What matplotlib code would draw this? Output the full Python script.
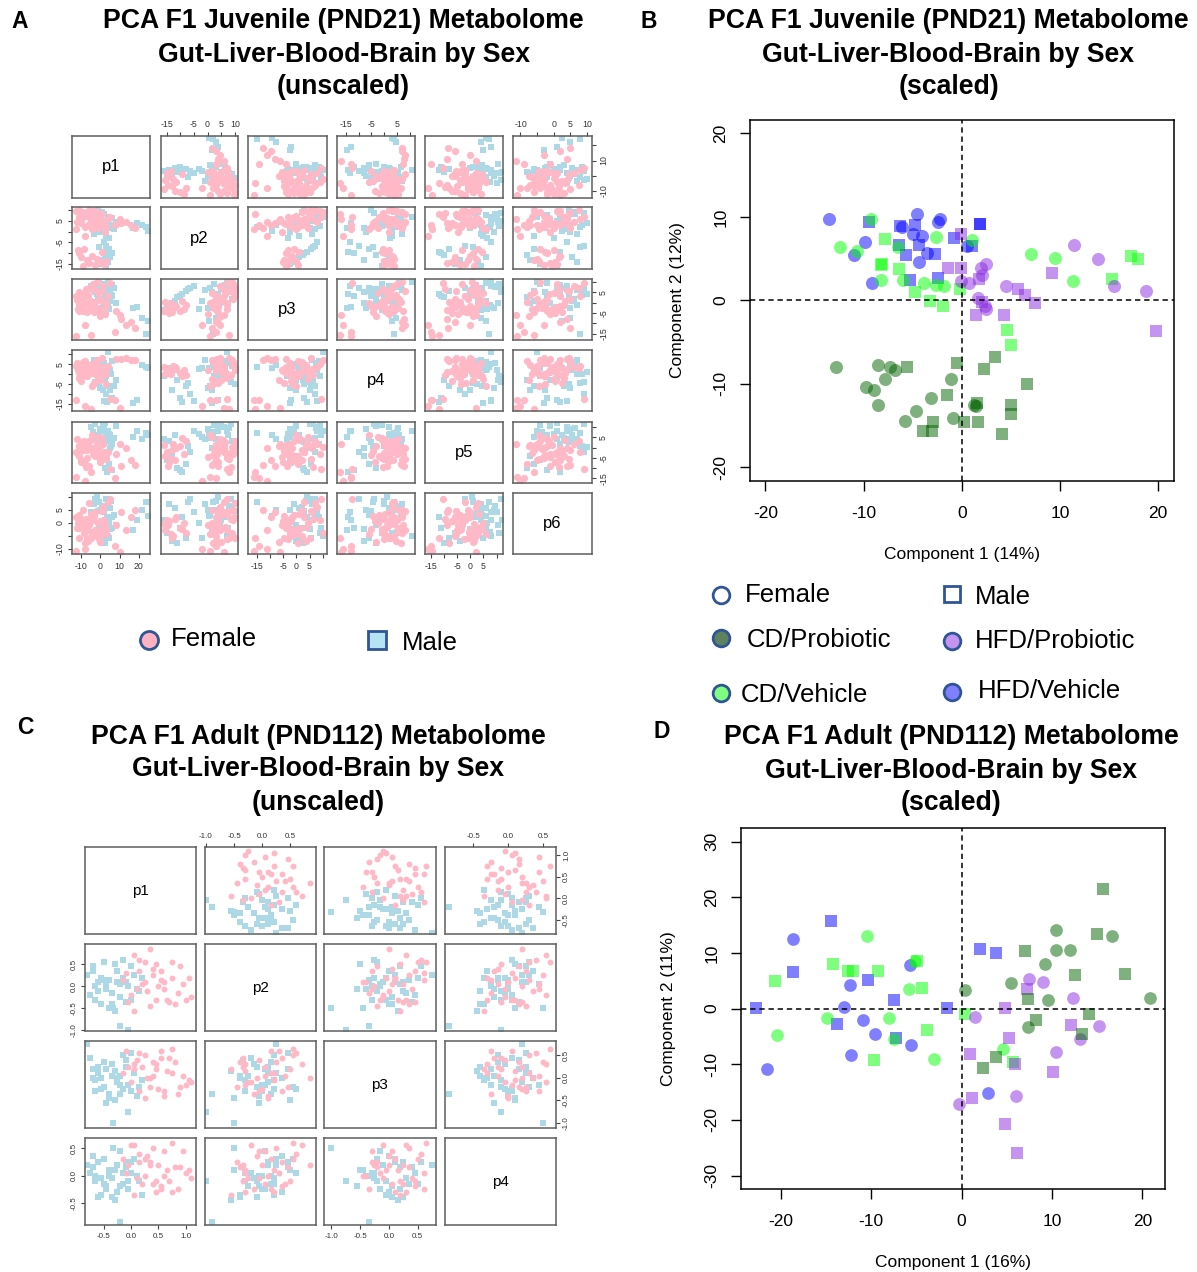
import matplotlib
matplotlib.use('Agg')
import matplotlib.pyplot as plt

plt.rcParams['font.family'] = ['Liberation Sans', 'DejaVu Sans']

# ---------------- Panel A: juvenile PCA pairs (unscaled), 6 components ----------------
a_names = ['p1', 'p2', 'p3', 'p4', 'p5', 'p6']
a_f_p1 = [-13.0, -11.0, -9.0, -6.0, -4.0, -2.0, -11.5, -9.5, -7.0, -3.0, -1.0, -12.5, -10.0, -6.5, -3.5, 0.0, 1.5, 3.0,
          -8.0, -1.5, 2.5, -5.0, -2.5, -7.5, -0.5, 4.0, -4.5, 1.0, -12.0, -11.0, -10.0, -8.5, -7.0, -6.0, -4.5, -3.0,
          -2.0, -0.5, 1.0, 2.0, 3.0, -9.0, 8.0, 11.0, 13.5, 16.0, 18.0, -13.0, -8.0, -5.0, 7.5, 10.0, 5.0]
a_f_p2 = [9.8, 10.0, 9.2, 10.1, 9.5, 9.0, 7.0, 6.5, 7.2, 6.0, 7.0, 4.5, 4.0, 3.0, 4.0, 3.0, 4.5, 2.0, 2.0, 1.5, 0.0,
          5.5, 2.5, 8.5, 5.0, 6.0, 1.0, 8.0, -8.5, -10.0, -12.0, -8.0, -13.0, -14.5, -11.5, -15.5, -12.5, -14.0,
          -9.5, -15.0, -13.5, -15.8, 3.5, 4.0, 4.5, 3.0, 1.5, 1.0, -2.0, 8.0, 3.0, 6.0, 7.0]
a_f_p3 = [3.0, 5.0, 2.0, 7.0, 9.0, 10.0, -1.0, 4.0, 0.0, 6.0, -3.0, 1.5, -2.0, 3.5, -4.5, 2.0, 8.0, -1.5, 0.5, 4.5,
          -5.5, 1.0, -2.5, 6.5, -6.5, 3.0, 0.0, 5.5, -3.0, -4.0, -2.0, -1.0, -4.5, -3.5, -1.5, 0.5, -2.5, -5.0, 1.0,
          -3.0, 0.0, -4.0, -4.0, -8.0, -11.0, -9.5, -12.5, -16.0, -11.0, -15.5, -14.0, -6.0, 9.5]
a_f_p4 = [4.0, 2.0, 6.0, 3.0, 5.0, 7.0, -2.0, 1.0, -1.0, 2.5, 0.0, 5.5, -3.5, 4.5, -4.5, 1.5, 3.5, -5.0, 6.5, -2.5,
          2.0, 0.5, 5.5, -0.5, -3.0, 4.0, -6.0, 8.0, 2.0, 0.5, 3.5, -0.5, 2.5, 1.0, 3.0, 0.0, 4.0, 1.5, -1.0, 2.5,
          0.0, 3.8, 7.5, 7.8, 8.0, 7.2, 7.0, -13.0, -16.0, -17.5, -13.0, -17.0, -12.5]
a_f_p5 = [-2.0, 1.0, -1.0, 3.0, -3.0, 0.5, -4.0, 2.5, -5.0, 0.0, -2.5, 4.0, -7.0, 1.5, -1.5, -6.0, 2.0, -3.5, -8.0,
          5.0, -4.5, 3.5, -0.5, -9.5, 1.0, -2.0, 6.0, -5.5, -3.0, 1.0, -6.0, 3.0, -1.0, -9.0, 0.0, -4.0, 2.0, -7.0,
          4.5, -2.0, -5.5, 1.5, -3.0, -9.0, 0.0, -6.0, -8.5, -14.5, -16.0, -12.0, -15.0, 2.0, -10.5]
a_f_p6 = [2.0, -6.0, 5.0, 7.5, 1.0, -4.0, 3.0, -1.5, -3.0, 4.0, -6.5, -2.0, 0.5, -7.0, 2.5, -5.0, 6.0, -2.5, -8.0,
          0.0, -1.0, 3.5, -3.5, 1.5, -7.5, 8.0, -4.5, 4.5, 0.0, -2.0, 1.5, -4.0, -6.0, -1.0, 2.0, -3.0, -5.0, 0.5,
          -2.5, 1.0, -4.5, -0.5, -1.0, 4.0, -3.0, 2.0, 5.0, -11.0, -10.0, -6.0, -9.0, -11.5, 9.0]

a_m_p1 = [-5.0, -3.0, -1.0, 1.0, 2.5, 4.0, 5.5, 7.0, -4.0, -2.0, 0.0, 3.0, 6.0, 8.0, -3.5, 1.5, 4.5, -1.5, 2.0, 5.0,
          2.0, 3.0, 4.5, 3.5, 2.5, 5.0, 1.5, 4.0, 0.5, 3.0, 6.0, -1.0, 17.0, 19.0, 22.0, 24.0, 25.0]
a_m_p2 = [6.0, 8.5, 7.5, 9.0, 5.0, 7.0, 3.0, 1.0, 2.0, 4.0, 0.0, -2.0, 6.5, 4.5, -1.0, 2.5, -3.0, 10.0, 8.0, 1.5,
          -5.0, -6.5, -8.0, -9.5, -11.0, -12.0, -13.0, -14.0, -15.0, -16.0, -10.0, -7.0, 1.5, 4.0, 3.0, 2.0, 0.5]
a_m_p3 = [8.0, 5.0, 9.5, 2.0, 6.5, 10.0, 3.5, 7.0, -1.0, 4.0, -2.5, 1.0, 8.5, 0.0, 6.0, 9.0, -3.0, 3.0, 7.5, 5.0,
          8.0, 7.0, 5.5, 4.0, 2.5, 1.0, 0.0, -1.0, -2.5, -3.5, 3.0, 6.5, -2.5, -2.0, -7.5, -15.0, -9.0]
a_m_p4 = [2.0, -4.0, 6.0, 4.0, -2.0, 11.0, 0.0, -6.0, 5.0, 1.0, -7.0, 3.0, 6.5, -3.0, 7.0, -1.0, 2.5, -5.0, 5.5,
          -8.0, -13.5, -10.0, -6.0, -14.0, -3.0, 2.0, -8.0, 0.0, 3.0, -1.0, -12.0, -4.5, -14.5, -13.0, 4.5, 3.8, 3.0]
a_m_p5 = [10.0, 11.5, 6.0, 3.0, 12.0, 8.0, 1.0, 4.5, 7.5, 0.5, 9.0, 5.0, 2.0, 10.5, 4.0, 11.0, 6.5, 2.5, 9.5, 0.0,
          8.0, -2.0, -8.0, -12.0, -10.0, 6.0, -4.0, 3.0, -6.0, 4.0, -11.0, 1.0, 5.0, 8.0, 4.0, 7.0, 6.0]
a_m_p6 = [4.0, 9.0, -2.0, 6.0, 1.0, -5.0, 8.5, 3.0, -3.5, 10.0, 5.0, -6.0, 2.0, -1.0, 7.0, -4.0, 0.0, 4.5, 6.5,
          -2.5, 4.0, 9.0, -6.0, 2.0, -8.0, 5.5, -7.0, 7.0, -4.0, 1.0, -2.0, 8.0, -3.0, 1.0, 5.0, 8.0, 2.5]

a_lims = [(-14.7, 26.1), (-17.2, 11.3), (-18.1, 11.6), (-18.7, 12.2), (-17.2, 12.6), (-12.2, 11.4)]
a_ticks = [[-10, 0, 10, 20], [-15, -10, -5, 0, 5, 10], [-15, -10, -5, 0, 5, 10],
           [-15, -10, -5, 0, 5, 10], [-15, -10, -5, 0, 5, 10], [-10, -5, 0, 5, 10]]
# which tick labels R kept on each outer side (the others were dropped for overlap)
a_shown = {('top', 1): [-15, -5, 0, 5, 10], ('top', 3): [-15, -5, 5], ('top', 5): [-10, 0, 5, 10],
           ('bottom', 0): [-10, 0, 10, 20], ('bottom', 2): [-15, -5, 0, 5], ('bottom', 4): [-15, -5, 0, 5],
           ('left', 1): [-15, -5, 5], ('left', 3): [-15, -5, 5], ('left', 5): [-10, 0, 5],
           ('right', 0): [-10, 10], ('right', 2): [-15, -5, 5], ('right', 4): [-15, -5, 5]}

# ---------------- Panel C: adult PCA pairs (unscaled), 4 components ----------------
c_names = ['p1', 'p2', 'p3', 'p4']
c_f_p1 = [0.35, 0.05, 0.25, 0.45, 0.90, -0.10, 0.15, 0.55, 1.05, 0.75, 0.40, -0.15, 0.60, 0.20, 0.95, 0.50, 0.10,
          0.30, 0.85, 0.65, 0.00, 0.45, 1.00, 0.70, 0.35, 0.05, 0.80, 0.25, 0.55, 1.10, 0.15, 0.60, 0.40, -0.05, 0.75]
c_f_p2 = [0.85, 0.70, 0.55, 0.50, 0.45, 0.30, 0.35, 0.35, 0.20, 0.20, 0.25, 0.15, 0.10, 0.05, 0.05, 0.00, -0.05,
          -0.10, -0.15, -0.30, -0.20, -0.30, -0.30, -0.35, -0.45, -0.55, -0.40, 0.10, 0.15, -0.25, 0.60, -0.05,
          0.40, -0.35, 0.55]
c_f_p3 = [0.0, 0.3, 0.5, 0.2, -0.2, 0.6, -0.3, 0.45, -0.05, 0.1, 0.35, 0.1, -0.4, 0.25, 0.05, -0.25, 0.4, 0.0,
          -0.35, 0.15, -0.1, 0.3, -0.15, 0.45, -0.2, 0.2, 0.35, -0.45, 0.6, -0.1, 0.55, -0.3, 0.05, 0.25, 0.65]
c_f_p4 = [0.2, 0.55, 0.3, -0.1, 0.15, 0.05, 0.25, -0.2, 0.1, -0.3, 0.5, 0.3, 0.0, -0.15, 0.45, 0.2, -0.05, 0.35,
          -0.25, 0.1, 0.55, -0.3, 0.05, -0.1, 0.25, -0.35, 0.15, 0.0, -0.25, -0.05, 0.4, 0.45, -0.15, 0.2, 0.6]

c_m_p1 = [-0.80, -0.75, -0.70, -0.65, -0.60, -0.55, -0.50, -0.45, -0.40, -0.35, -0.30, -0.30, -0.25, -0.20, -0.15,
          -0.10, -0.05, 0.00, 0.05, 0.15, 0.20, -0.65, -0.50, -0.40, -0.25, -0.10, 0.10, -0.35, -0.20, -0.55, -0.20,
          -0.05, -0.32, 0.00, -0.45, -0.70, -0.60, -0.15]
c_m_p2 = [0.25, -0.20, 0.45, -0.30, 0.10, -0.40, 0.55, 0.05, 0.15, -0.15, 0.50, -0.55, 0.10, -0.25, 0.60, -0.35,
          0.00, -0.30, 0.25, -0.10, 0.20, 0.00, 0.15, -0.50, 0.35, 0.10, -0.05, -0.40, 0.05, 0.20, -0.90, -1.00,
          -0.50, 0.45, -0.05, 0.35, -0.10, 0.20]
c_m_p3 = [0.75, 0.45, 0.2, -0.05, 0.1, 0.0, -0.2, 0.2, -0.35, 0.3, -0.5, 0.15, -0.1, 0.05, -0.25, 0.4, -0.15, -0.3,
          0.1, -0.2, -0.05, -0.3, 0.35, -0.45, 0.0, 0.25, -0.4, 0.05, -0.15, -0.25, -0.35, -0.75, -1.00, 0.55,
          -0.55, 0.0, 0.25, 0.5]
c_m_p4 = [0.2, 0.05, 0.15, -0.1, 0.25, -0.35, 0.3, -0.25, 0.0, -0.05, 0.1, -0.45, 0.2, -0.2, 0.05, 0.15, -0.25,
          0.05, 0.3, -0.1, -0.35, 0.0, -0.15, 0.1, -0.3, 0.25, 0.0, -0.4, 0.45, -0.05, -0.85, -0.1, 0.5, 0.25,
          -0.2, 0.35, -0.4, -0.15]

c_lims = [(-0.84, 1.18), (-1.02, 0.96), (-1.12, 0.81), (-0.91, 0.68)]
c_ticks = [[-0.5, 0.0, 0.5, 1.0], [-1.0, -0.5, 0.0, 0.5], [-1.0, -0.5, 0.0, 0.5], [-0.5, 0.0, 0.5]]

# ---------------- Panel B: juvenile PCA (scaled) by group ----------------
b_hfdveh_f_x = [-13.5, -9.9, -11.0, -9.1, -6.1, -5.0, -4.6, -4.0, -4.4, -3.5, -2.4, -2.2, 0.5]
b_hfdveh_f_y = [9.7, 7.0, 5.4, 2.1, 8.8, 8.0, 10.3, 7.7, 4.6, 5.7, 9.4, 9.8, 6.5]
b_hfdveh_m_x = [-9.4, -6.3, -4.8, -6.4, -4.4, -5.7, -5.3, -2.7, -2.4, -0.8, 1.0, 1.9, 1.9]
b_hfdveh_m_y = [9.4, 8.9, 9.0, 6.6, 6.6, 5.4, 2.4, 5.6, 2.7, 7.5, 6.5, 9.2, 9.2]
b_cdveh_f_x = [-9.2, -12.4, -10.7, -6.5, -2.6, 1.1, -8.2, -6.0, -3.8, -2.6, -1.8, 7.1, 9.5, 11.3]
b_cdveh_f_y = [9.8, 6.4, 5.9, 6.4, 7.6, 7.2, 2.4, 2.4, 2.1, 1.8, 1.7, 5.5, 5.1, 2.3]
b_cdveh_m_x = [-7.8, -8.2, -8.1, -6.4, -4.8, -3.2, -1.9, -0.2, 4.6, 5.0, 17.3, 18.0, 15.3]
b_cdveh_m_y = [7.4, 4.2, 4.3, 3.7, 1.0, -0.1, -0.7, 1.4, -3.6, -5.3, 5.3, 5.0, 2.5]
b_hfdpro_f_x = [-0.1, 0.7, 2.0, 2.5, 2.1, 1.7, 2.4, 2.5, 4.5, 11.4, 13.9, 15.5, 18.8]
b_hfdpro_f_y = [2.3, 2.1, 3.9, 4.4, 3.0, 0.3, -0.7, -1.0, 1.7, 6.6, 4.9, 1.7, 1.1]
b_hfdpro_m_x = [-0.1, -1.4, -0.1, 1.8, 2.1, 1.5, 4.3, 5.7, 6.5, 7.5, 9.2, 19.8]
b_hfdpro_m_y = [8.0, 3.9, 3.9, 2.5, -0.2, -1.7, -1.8, 1.3, 0.6, -0.3, 3.3, -3.7]
b_cdpro_f_x = [-12.8, -8.5, -7.3, -6.8, -7.8, -9.8, -8.9, -8.5, -1.1, -3.1, -4.7, -5.8, -0.9, 1.3, 1.5]
b_cdpro_f_y = [-8.0, -7.7, -8.0, -8.3, -9.4, -10.4, -10.7, -12.5, -9.4, -11.7, -13.3, -14.5, -14.1, -12.5, -12.6]
b_cdpro_m_x = [-5.6, -0.5, 3.4, 2.3, 6.7, -1.5, 1.6, 5.0, 5.0, -2.9, -3.9, -3.0, 0.2, 1.7, 4.1]
b_cdpro_m_y = [-8.0, -7.5, -6.8, -8.2, -10.0, -11.3, -12.3, -12.5, -13.6, -14.6, -15.6, -15.6, -14.6, -14.6, -16.0]

# ---------------- Panel D: adult PCA (scaled) by group ----------------
d_hfdveh_f_x = [-18.6, -12.3, -13.0, -10.9, -9.6, -12.2, -21.5, -5.7, -5.6, 2.9]
d_hfdveh_f_y = [12.6, 4.2, 0.3, -2.0, -4.5, -8.3, -10.8, 7.8, -6.6, -15.1]
d_hfdveh_m_x = [-14.5, -18.7, -22.7, -13.8, -10.4, -7.5, -7.3, -1.6, 2.0, 3.8]
d_hfdveh_m_y = [15.7, 6.5, 0.1, -2.8, 5.1, 1.5, -5.2, 0.1, 10.8, 10.0]
d_cdveh_f_x = [-10.5, -20.4, -14.9, -8.0, -7.5, -5.8, -5.1, -3.1, 4.6]
d_cdveh_f_y = [13.0, -4.8, -1.7, -1.7, -5.4, 3.5, 8.6, -9.0, -7.2]
d_cdveh_m_x = [-20.6, -14.2, -12.6, -12.0, -9.2, -4.4, -3.8, -9.7, -4.9, 0.4, 5.7]
d_cdveh_m_y = [5.0, 8.1, 6.8, 6.8, 6.7, 3.7, -3.9, -9.3, 8.5, -0.9, -9.6]
d_hfdpro_f_x = [1.5, 7.5, 9.0, 12.3, 15.2, 13.1, 10.5, 6.0, -0.3]
d_hfdpro_f_y = [-1.5, 5.4, 4.7, 1.9, -3.2, -5.4, -7.8, -15.7, -17.2]
d_hfdpro_m_x = [7.2, 4.8, 5.2, 0.9, 5.9, 12.1, 10.1, 1.1, 4.8, 6.1]
d_hfdpro_m_y = [3.6, 0.1, -5.2, -8.1, -10.0, -3.0, -11.4, -16.1, -20.8, -25.9]
d_cdpro_f_x = [0.4, 5.5, 10.5, 10.5, 12.0, 16.6, 9.2, 9.6, 20.8, 7.3]
d_cdpro_f_y = [3.3, 4.6, 14.2, 10.6, 10.5, 13.0, 8.0, 1.5, 1.9, -3.3]
d_cdpro_m_x = [7.0, 15.6, 15.0, 12.6, 18.1, 7.4, 8.2, 14.1, 13.3, 3.8, 2.4]
d_cdpro_m_y = [10.3, 21.5, 13.5, 6.0, 6.2, 1.7, -2.1, -0.9, -4.5, -8.6, -10.6]

# ---------------- styling ----------------
W, H = 1197, 1272
female_col = '#FFB8C6'
male_col = '#ADD8E6'
grp_col = {'cdpro': 'darkgreen', 'cdveh': '#00FF00', 'hfdpro': 'blueviolet', 'hfdveh': '#0000FF'}
legend_edge = '#2F5597'
frame_gray = '#5E5E5E'

fig = plt.figure(figsize=(W / 100, H / 100), dpi=100)


def px_axes(x0, y0, x1, y1):
    return fig.add_axes([x0 / W, 1 - y1 / H, (x1 - x0) / W, (y1 - y0) / H])


def fmt_int(t):
    return '%d' % t


def fmt_dec(t):
    return '%.1f' % t


def pairs(col_px, row_px, names, fem, mal, lims, ticks, shown, fmt, s_f, s_m, fs_tick, fs_lab):
    n = len(names)
    for i in range(n):
        for j in range(n):
            ax = px_axes(col_px[j][0], row_px[i][0], col_px[j][1], row_px[i][1])
            ax.set_xlim(lims[j])
            ax.set_ylim(lims[i])
            ax.set_xticks([])
            ax.set_yticks([])
            for sp in ax.spines.values():
                sp.set_color(frame_gray)
                sp.set_linewidth(1.1)
            if i == j:
                ax.text(0.5, 0.5, names[i], transform=ax.transAxes, ha='center', va='center', fontsize=fs_lab)
            else:
                ax.scatter(mal[j], mal[i], s=s_m, marker='s', color=male_col, linewidths=0)
                ax.scatter(fem[j], fem[i], s=s_f, marker='o', color=female_col, linewidths=0)
            kw = dict(length=3, width=0.8, pad=2.5, labelsize=fs_tick, color='#444444', labelcolor='#333333')
            if i == 0 and j % 2 == 1:
                keep = shown.get(('top', j), ticks[j])
                ax.xaxis.tick_top()
                ax.set_xticks(ticks[j], [fmt(t) if t in keep else '' for t in ticks[j]])
                ax.tick_params(axis='x', **kw)
            if i == n - 1 and j % 2 == 0:
                keep = shown.get(('bottom', j), ticks[j])
                ax.set_xticks(ticks[j], [fmt(t) if t in keep else '' for t in ticks[j]])
                ax.tick_params(axis='x', **kw)
            if j == 0 and i % 2 == 1:
                keep = shown.get(('left', i), ticks[i])
                ax.set_yticks(ticks[i], [fmt(t) if t in keep else '' for t in ticks[i]])
                ax.tick_params(axis='y', labelrotation=90, **kw)
                for lb in ax.get_yticklabels():
                    lb.set_va('center')
            if j == n - 1 and i % 2 == 0:
                keep = shown.get(('right', i), ticks[i])
                ax.yaxis.tick_right()
                ax.set_yticks(ticks[i], [fmt(t) if t in keep else '' for t in ticks[i]])
                ax.tick_params(axis='y', labelrotation=90, **kw)
                for lb in ax.get_yticklabels():
                    lb.set_va('center')


def pca_panel(rect, groups, xlim, ylim, xticks, yticks, xlabel, ylabel, s_c, s_s):
    ax = px_axes(*rect)
    for xs, ys, key, mk in groups:
        ax.scatter(xs, ys, s=s_c if mk == 'o' else s_s, marker=mk, color=grp_col[key], alpha=0.5, linewidths=0)
    ax.axhline(0, color='black', lw=1.1, dashes=(3.5, 2.5))
    ax.axvline(0, color='black', lw=1.1, dashes=(3.5, 2.5))
    ax.set_xlim(xlim)
    ax.set_ylim(ylim)
    ax.set_xticks(xticks, ['%d' % t for t in xticks])
    ax.set_yticks(yticks, ['%d' % t for t in yticks])
    ax.tick_params(axis='both', length=7.5, width=1.0, labelsize=12.5, color='black')
    ax.tick_params(axis='x', pad=10.5)
    ax.tick_params(axis='y', pad=8, labelrotation=90)
    for lb in ax.get_yticklabels():
        lb.set_va('center')
    for sp in ax.spines.values():
        sp.set_linewidth(1.1)
    ax.text(0.5, -0.205, xlabel, transform=ax.transAxes, ha='center', va='center', fontsize=12.5)
    ax.text(-0.17, 0.5, ylabel, transform=ax.transAxes, ha='center', va='center', rotation=90, fontsize=12.5)
    return ax


# Panel A
a_cols = [(72.4, 150.3), (160.5, 238.4), (248.3, 327.0), (336.5, 415.2), (425.1, 503.4), (513.2, 591.5)]
a_rows = [(136.3, 197.7), (207.3, 268.7), (278.7, 340.0), (350.0, 411.3), (421.7, 483.0), (493.0, 554.3)]
pairs(a_cols, a_rows, a_names,
      [a_f_p1, a_f_p2, a_f_p3, a_f_p4, a_f_p5, a_f_p6],
      [a_m_p1, a_m_p2, a_m_p3, a_m_p4, a_m_p5, a_m_p6],
      a_lims, a_ticks, a_shown, fmt_int, 27, 21, 6.3, 12)

# Panel C
c_cols = [(85.0, 195.7), (204.8, 316.3), (324.2, 435.7), (444.8, 555.5)]
c_rows = [(847.3, 934.3), (944.0, 1031.3), (1041.3, 1128.3), (1138.3, 1225.3)]
pairs(c_cols, c_rows, c_names,
      [c_f_p1, c_f_p2, c_f_p3, c_f_p4],
      [c_m_p1, c_m_p2, c_m_p3, c_m_p4],
      c_lims, c_ticks, {}, fmt_dec, 18, 14, 5.8, 11)

# Panel B
pca_panel((749.7, 120.0, 1173.7, 480.7),
          [(b_hfdveh_f_x, b_hfdveh_f_y, 'hfdveh', 'o'), (b_hfdveh_m_x, b_hfdveh_m_y, 'hfdveh', 's'),
           (b_cdveh_f_x, b_cdveh_f_y, 'cdveh', 'o'), (b_cdveh_m_x, b_cdveh_m_y, 'cdveh', 's'),
           (b_hfdpro_f_x, b_hfdpro_f_y, 'hfdpro', 'o'), (b_hfdpro_m_x, b_hfdpro_m_y, 'hfdpro', 's'),
           (b_cdpro_f_x, b_cdpro_f_y, 'cdpro', 'o'), (b_cdpro_m_x, b_cdpro_m_y, 'cdpro', 's')],
          (-21.6, 21.6), (-21.6, 21.6), [-20, -10, 0, 10, 20], [-20, -10, 0, 10, 20],
          'Component 1 (14%)', 'Component 2 (12%)', 88, 80)

# Panel D
pca_panel((740.7, 828.3, 1165.3, 1189.0),
          [(d_hfdveh_f_x, d_hfdveh_f_y, 'hfdveh', 'o'), (d_hfdveh_m_x, d_hfdveh_m_y, 'hfdveh', 's'),
           (d_cdveh_f_x, d_cdveh_f_y, 'cdveh', 'o'), (d_cdveh_m_x, d_cdveh_m_y, 'cdveh', 's'),
           (d_hfdpro_f_x, d_hfdpro_f_y, 'hfdpro', 'o'), (d_hfdpro_m_x, d_hfdpro_m_y, 'hfdpro', 's'),
           (d_cdpro_f_x, d_cdpro_f_y, 'cdpro', 'o'), (d_cdpro_m_x, d_cdpro_m_y, 'cdpro', 's')],
          (-24.44, 22.54), (-32.4, 32.4), [-20, -10, 0, 10, 20], [-30, -20, -10, 0, 10, 20, 30],
          'Component 1 (16%)', 'Component 2 (11%)', 84, 76)

# ---------------- titles, panel letters and legends (pixel overlay) ----------------
over = fig.add_axes([0, 0, 1, 1])
over.set_xlim(0, W)
over.set_ylim(H, 0)
over.axis('off')

titles = [
    (343.5, [21.5, 54.5, 87.0], ['PCA F1 Juvenile (PND21) Metabolome', 'Gut-Liver-Blood-Brain by Sex', '(unscaled)']),
    (948.5, [21.5, 54.5, 87.0], ['PCA F1 Juvenile (PND21) Metabolome', 'Gut-Liver-Blood-Brain by Sex', '(scaled)']),
    (318.0, [736.5, 769.5, 802.5], ['PCA F1 Adult (PND112) Metabolome', 'Gut-Liver-Blood-Brain by Sex', '(unscaled)']),
    (951.0, [737.5, 770.5, 803.5], ['PCA F1 Adult (PND112) Metabolome', 'Gut-Liver-Blood-Brain by Sex', '(scaled)']),
]
for cx, ys, lines in titles:
    for y, t in zip(ys, lines):
        over.text(cx, y, t, ha='center', va='center', fontsize=19.2, fontweight='bold')

for letter, x, y in [('A', 20, 21), ('B', 649, 21), ('C', 25, 728), ('D', 662, 731)]:
    over.text(x, y, letter, ha='center', va='center', fontsize=16.5, fontweight='bold')

# legend under panel A
over.plot([149], [640], marker='o', ms=13, mfc='#FFB3C1', mec=legend_edge, mew=2.0, ls='none')
over.text(171, 639, 'Female', ha='left', va='center', fontsize=18.5)
over.plot([377], [640], marker='s', ms=12.5, mfc='#B5E3F3', mec=legend_edge, mew=2.0, ls='none')
over.text(402, 643, 'Male', ha='left', va='center', fontsize=18.5)

# legend under panel B
leg_b = [
    (721, 595, 'o', 'none', 745, 595, 'Female'),
    (952, 594, 's', 'none', 975, 597, 'Male'),
    (721, 638, 'o', '#5E825E', 747, 640, 'CD/Probiotic'),
    (952, 641, 'o', '#C594EE', 975, 641, 'HFD/Probiotic'),
    (721, 693, 'o', '#80FF80', 741, 695, 'CD/Vehicle'),
    (952, 692, 'o', '#8080FF', 978, 691, 'HFD/Vehicle'),
]
for mx, my, mk, fc, tx, ty, label in leg_b:
    over.plot([mx], [my], marker=mk, ms=12 if mk == 'o' else 11, mfc=fc, mec=legend_edge, mew=2.0, ls='none')
    over.text(tx, ty, label, ha='left', va='center', fontsize=18.5)

fig.savefig('out.png', dpi=100)
